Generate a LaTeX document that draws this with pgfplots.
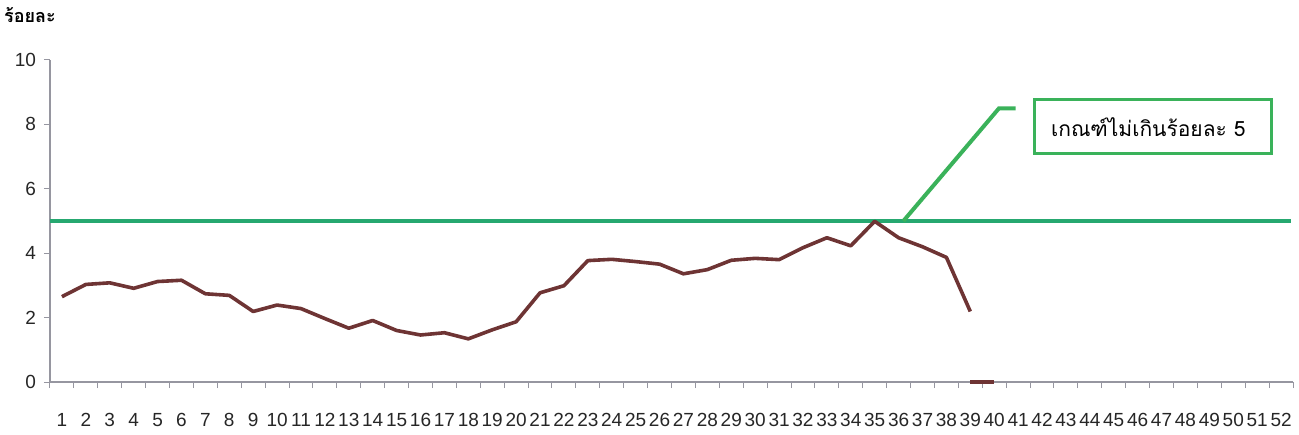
\documentclass[border=0pt]{standalone}
\usepackage{fontspec}
\setmainfont{Liberation Sans}
\newfontfamily\thaifont[Script=Thai]{Loma}
\usepackage{pgfplots}
\pgfplotsset{compat=1.18}
\definecolor{serieslc}{RGB}{110,52,52}
\definecolor{threshc}{RGB}{38,168,112}
\definecolor{callc}{RGB}{58,178,90}
\definecolor{axgray}{RGB}{150,150,160}
\begin{document}
\begin{tikzpicture}
\begin{axis}[
  scale only axis,
  width=621.5pt, height=161pt,
  xmin=0.5, xmax=52.5,
  ymin=0, ymax=10,
  axis x line*=bottom, axis y line*=left,
  axis line style={axgray, line width=0.6pt, -},
  xtick={1,...,52},
  minor xtick={0.5,1.5,...,52.5},
  ytick={0,2,4,6,8,10},
  tick align=outside,
  major x tick style={draw=none},
  minor x tick style={axgray, line width=0.5pt},
  minor tick length=3pt,
  y tick style={axgray, line width=0.5pt},
  major tick length=3pt,
  tick label style={font=\fontsize{9.5}{10}\selectfont, text=black!85},
  /pgf/number format/assume math mode=true,
  xticklabel style={yshift=-9pt, inner xsep=0pt},
  yticklabel style={xshift=-0.5pt},
  clip=false,
]
\addplot[threshc, line width=2pt] coordinates {(0.5,5) (52.4,5)};
\addplot[serieslc, line width=1.8pt, line join=round] coordinates {
(1,2.65) (2,3.03) (3,3.08) (4,2.91) (5,3.12) (6,3.16) (7,2.74) (8,2.69)
(9,2.19) (10,2.39) (11,2.28) (12,1.97) (13,1.67) (14,1.91) (15,1.60)
(16,1.46) (17,1.53) (18,1.34) (19,1.62) (20,1.87) (21,2.77) (22,2.99)
(23,3.77) (24,3.81) (25,3.74) (26,3.66) (27,3.36) (28,3.49) (29,3.78)
(30,3.84) (31,3.80) (32,4.17) (33,4.48) (34,4.23) (35,4.99) (36,4.48)
(37,4.20) (38,3.87) (39,2.19)};
\addplot[serieslc, line width=1.8pt] coordinates {(39,0) (40,0)};
\draw[callc, line width=2pt] (axis cs:36.2,5.0) -- (axis cs:40.2,8.5) -- (axis cs:40.9,8.5);
\draw[callc, line width=1.5pt, fill=white] (axis cs:41.67,7.11) rectangle (axis cs:51.6,8.76);
\node[font=\thaifont\fontsize{10.5}{12}\selectfont] at (axis cs:46.45,7.93) {เกณฑ์ไม่เกินร้อยละ 5};
\node[font=\thaifont\bfseries\fontsize{9}{10}\selectfont, anchor=center] at ([xshift=-10pt,yshift=22.5pt]rel axis cs:0,1) {ร้อยละ};
\coordinate (SW) at (rel axis cs:0,0);
\coordinate (NE) at (rel axis cs:1,1);
\end{axis}
\pgfresetboundingbox
\path ([xshift=-25pt,yshift=-26pt]SW) rectangle ([xshift=3pt,yshift=30pt]NE);
\end{tikzpicture}
\end{document}
